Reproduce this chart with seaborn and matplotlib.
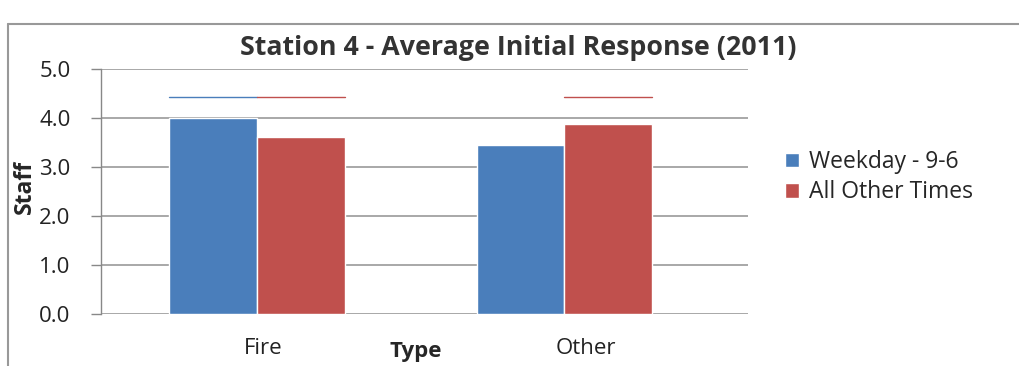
import matplotlib
matplotlib.use("Agg")
import matplotlib.pyplot as plt
import seaborn as sns
import pandas as pd
from matplotlib.lines import Line2D

# Data
types = ["Fire", "Other"]
series = ["Weekday - 9-6", "All Other Times"]
weekday = [3.99, 3.45]
other_times = [3.61, 3.88]
# short reference lines drawn above some bars (type, series, value)
ref_marks = [("Fire", "Weekday - 9-6", 4.43), ("Fire", "All Other Times", 4.43),
             ("Other", "All Other Times", 4.43)]
yticks = [0.0, 1.0, 2.0, 3.0, 4.0, 5.0]

df = pd.DataFrame({
    "Type": types * 2,
    "Series": [series[0]] * 2 + [series[1]] * 2,
    "Staff": weekday + other_times,
})

sns.set_theme(style="white")
plt.rcParams["font.family"] = ["Open Sans", "DejaVu Sans"]

W, H = 1019, 366
fig = plt.figure(figsize=(W / 100, H / 100), dpi=100)
ax = fig.add_axes([101 / W, 1 - 314 / H, 647 / W, 245 / H])

palette = {series[0]: "#4a7ebb", series[1]: "#c0504d"}
sns.barplot(data=df, x="Type", y="Staff", hue="Series", order=types,
            hue_order=series, palette=palette, width=0.57, saturation=1,
            ax=ax, legend=True)

# reference lines over matching bars
for (cat, ser, val) in ref_marks:
    ci = types.index(cat)
    si = series.index(ser)
    patch = ax.containers[si][ci]
    x0 = patch.get_x()
    ax.plot([x0, x0 + patch.get_width()], [val, val],
            color=palette[ser], lw=1.0, zorder=3)

ax.set_ylim(0, 5)
ax.set_yticks(yticks)
ax.set_yticklabels([f"{v:.1f}" for v in yticks], fontsize=16, color="#222222")
ax.set_xlim(-0.508, 1.599)
ax.set_xticks([0.02, 1.07])
ax.set_xticklabels(types)
ax.tick_params(axis="x", length=0, labelsize=16, colors="#222222", pad=17)
ax.tick_params(axis="y", length=7, width=1, color="#888888", direction="out",
               left=True, pad=15)
ax.yaxis.grid(True, color="#9a9a9a", lw=1.2)
ax.set_axisbelow(True)
for s in ["top", "right", "bottom"]:
    ax.spines[s].set_visible(False)
ax.spines["left"].set_color("#888888")
ax.spines["left"].set_linewidth(1)

ax.set_xlabel("")
ax.set_ylabel("Staff", fontsize=16.5, fontweight="bold")
ax.yaxis.set_label_coords(-0.099, 0.52)
fig.text(416 / W, 1 - 351 / H, "Type", fontsize=16, fontweight="bold",
         ha="center", va="center")

fig.text(518 / W, 1 - 48 / H, "Station 4 - Average Initial Response (2011)",
         fontsize=19.3, fontweight="bold", color="#333333",
         ha="center", va="center")

leg = ax.legend(loc="center left", bbox_to_anchor=(1.043, 0.558), frameon=False,
                fontsize=16.5, handlelength=0.6, handleheight=0.6,
                handletextpad=0.45, labelspacing=0.28, borderaxespad=0)

# chart frame
fig.add_artist(Line2D([8 / W, 1.0], [1 - 24 / H] * 2, color="#999999",
                      lw=1.5, transform=fig.transFigure))
fig.add_artist(Line2D([8 / W] * 2, [0.0, 1 - 24 / H], color="#999999",
                      lw=1.5, transform=fig.transFigure))

fig.savefig("out.png", dpi=100)
